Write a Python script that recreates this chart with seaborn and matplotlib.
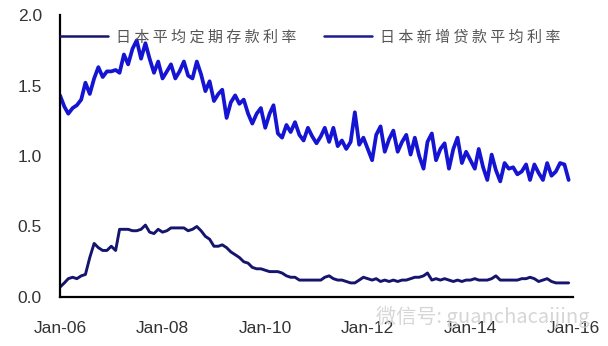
import numpy as np
import pandas as pd
import matplotlib
matplotlib.use("Agg")
import matplotlib.pyplot as plt
import seaborn as sns
from matplotlib.lines import Line2D

# ---- data (monthly, Jan-2006 .. Dec-2015) ----
start_month = "2006-01-01"
n_months = 120

deposit_rate = [
    0.07, 0.10, 0.13, 0.14, 0.13, 0.15, 0.16, 0.28, 0.38, 0.35, 0.33, 0.33,
    0.36, 0.33, 0.48, 0.48, 0.48, 0.47, 0.47, 0.48, 0.51, 0.46, 0.45, 0.48,
    0.46, 0.47, 0.49, 0.49, 0.49, 0.49, 0.47, 0.48, 0.50, 0.47, 0.43, 0.41,
    0.36, 0.36, 0.37, 0.35, 0.32, 0.30, 0.28, 0.25, 0.24, 0.21, 0.20, 0.20,
    0.19, 0.18, 0.18, 0.18, 0.17, 0.15, 0.14, 0.14, 0.12, 0.12, 0.12, 0.12,
    0.12, 0.12, 0.14, 0.15, 0.13, 0.12, 0.12, 0.11, 0.10, 0.10, 0.12, 0.14,
    0.13, 0.12, 0.13, 0.11, 0.12, 0.11, 0.12, 0.11, 0.12, 0.12, 0.13, 0.14,
    0.14, 0.15, 0.17, 0.12, 0.13, 0.12, 0.13, 0.12, 0.11, 0.12, 0.11, 0.12,
    0.12, 0.13, 0.12, 0.12, 0.12, 0.13, 0.15, 0.12, 0.12, 0.12, 0.12, 0.12,
    0.13, 0.13, 0.14, 0.13, 0.11, 0.12, 0.13, 0.11, 0.10, 0.10, 0.10, 0.10,
]

loan_rate = [
    1.43, 1.35, 1.30, 1.34, 1.36, 1.40, 1.52, 1.44, 1.55, 1.63, 1.56, 1.60,
    1.60, 1.61, 1.59, 1.72, 1.65, 1.76, 1.82, 1.69, 1.80, 1.69, 1.59, 1.67,
    1.55, 1.60, 1.65, 1.55, 1.60, 1.67, 1.57, 1.55, 1.67, 1.58, 1.46, 1.53,
    1.39, 1.44, 1.47, 1.27, 1.38, 1.43, 1.37, 1.40, 1.30, 1.23, 1.30, 1.34,
    1.20, 1.30, 1.36, 1.16, 1.13, 1.22, 1.17, 1.24, 1.15, 1.11, 1.20, 1.14,
    1.09, 1.14, 1.20, 1.10, 1.20, 1.07, 1.11, 1.05, 1.10, 1.31, 1.08, 1.13,
    1.05, 0.97, 1.15, 1.21, 1.03, 1.12, 1.18, 1.03, 1.10, 1.15, 1.01, 1.13,
    1.00, 0.91, 1.10, 1.16, 0.97, 1.05, 1.09, 0.91, 1.05, 1.13, 0.95, 1.03,
    0.97, 0.91, 1.05, 0.92, 0.83, 1.01, 0.90, 0.82, 0.95, 0.91, 0.92, 0.87,
    0.89, 0.94, 0.83, 0.94, 0.88, 0.83, 0.95, 0.86, 0.89, 0.95, 0.94, 0.83,
]

series_names = ["日本平均定期存款利率", "日本新增贷款平均利率"]
tick_years = [2006, 2008, 2010, 2012, 2014, 2016]
tick_labels = ["Jan-06", "Jan-08", "Jan-10", "Jan-12", "Jan-14", "Jan-16"]
y_ticks = [0.0, 0.5, 1.0, 1.5, 2.0]
watermark = "微信号: guanchacaijing"

dates = pd.date_range(start_month, periods=n_months, freq="MS")
df = pd.concat([
    pd.DataFrame({"date": dates, "value": deposit_rate, "series": series_names[0]}),
    pd.DataFrame({"date": dates, "value": loan_rate, "series": series_names[1]}),
])

# ---- style ----
sns.set_style("white")
plt.rcParams["font.family"] = ["Liberation Sans", "Noto Sans CJK SC", "DejaVu Sans"]

colors = {series_names[0]: "#15156e", series_names[1]: "#1414d2"}
widths = {series_names[0]: 2.1, series_names[1]: 2.7}

fig = plt.figure(figsize=(6.08, 3.46), dpi=100)
ax = fig.add_axes([60 / 608, 49 / 346, 513 / 608, 282 / 346])

for name in series_names:
    sns.lineplot(data=df[df["series"] == name], x="date", y="value",
                 color=colors[name], linewidth=widths[name], ax=ax, legend=False,
                 solid_joinstyle="round", solid_capstyle="round")

ax.set_xlim(pd.Timestamp("2006-01-01"), pd.Timestamp("2016-01-01"))
ax.set_ylim(0, 2.0)
ax.set_xticks([pd.Timestamp(f"{y}-01-01") for y in tick_years])
ax.set_xticklabels(tick_labels)
ax.set_yticks(y_ticks)
ax.set_yticklabels([f"{v:.1f}" for v in y_ticks])
ax.set_xlabel("")
ax.set_ylabel("")

for s in ["top", "right"]:
    ax.spines[s].set_visible(False)
for s in ["left", "bottom"]:
    ax.spines[s].set_color("black")
    ax.spines[s].set_linewidth(1.6)

ax.tick_params(axis="both", direction="out", length=5, width=1.5,
               color="black", labelsize=12.5, labelcolor="#333333")
ax.tick_params(axis="x", pad=12)
ax.tick_params(axis="y", pad=8)

# legend
handles = [Line2D([], [], color="#15156e", linewidth=1.8),
           Line2D([], [], color="#1c1c8e", linewidth=1.8)]
spaced = [" ".join(list(n)) for n in series_names]
leg = ax.legend(handles, spaced, loc="center left", bbox_to_anchor=(0.0, 0.922),
                ncol=2, frameon=False, borderpad=0, borderaxespad=0,
                handlelength=3.2, handletextpad=0.5, columnspacing=1.9,
                prop={"family": ["Noto Sans CJK SC", "DejaVu Sans"], "size": 10.8})
for t in leg.get_texts():
    t.set_color("#555555")

# watermark
fig.text(0.97, 0.085, watermark, ha="right", va="center", fontsize=14.5,
         color="#cfcfcf", alpha=0.85,
         family=["Noto Sans CJK SC", "DejaVu Sans"])

fig.savefig("out.png", dpi=100)
